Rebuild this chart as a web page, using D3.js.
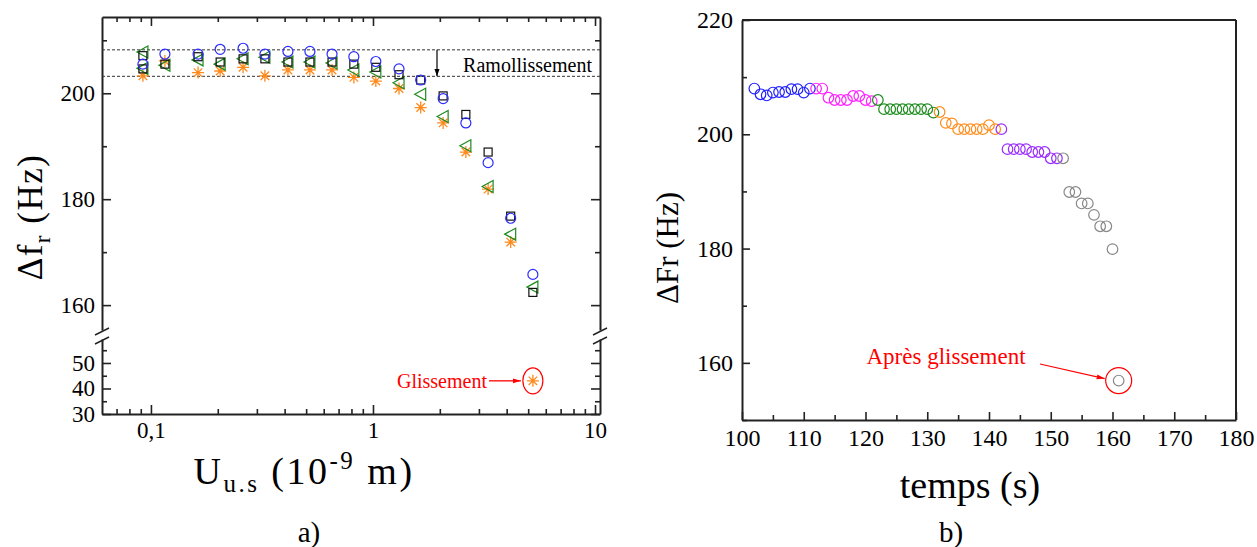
<!DOCTYPE html>
<html>
<head>
<meta charset="utf-8">
<script src="https://cdn.jsdelivr.net/npm/d3@7"></script>
<style>
  html, body { margin: 0; padding: 0; background: #fff; }
  svg { display: block; }
  svg text { font-family: "Liberation Serif", "Times New Roman", serif !important; }
</style>
</head>
<body>
<svg id="chart" width="1257" height="547"></svg>
<script>
// ---------------- DATA: chart a) ----------------
const uValues = [0.092, 0.1156, 0.163, 0.205, 0.26, 0.326, 0.414, 0.52, 0.654, 0.82, 1.03, 1.31, 1.64, 2.07, 2.62, 3.3, 4.17, 5.25];
const circleSeries   = [205.5, 207.4, 207.4, 208.3, 208.5, 207.4, 207.9, 207.9, 207.4, 206.9, 206.0, 204.6, 202.5, 199.0, 194.4, 186.9, 176.4, 165.8];
const squareSeries   = [207.1, 205.5, 206.9, 205.9, 206.5, 206.5, 205.9, 205.9, 205.9, 205.5, 204.9, 203.5, 202.5, 199.5, 196.0, 188.9, 176.8, 162.4];
const triangleSeries = [207.8, 205.3, 206.3, 205.5, 206.5, 206.8, 205.9, 205.9, 205.7, 204.4, 204.0, 202.0, 199.8, 195.6, 190.1, 182.4, 173.4, 163.4];
const starSeries     = [203.3, 206.1, 203.9, 204.2, 204.9, 203.3, 204.4, 204.4, 204.4, 203.0, 202.3, 200.9, 197.3, 194.4, 188.9, 181.9, 171.9];
const extraU = [0.092];
const squareExtra = [204.6];
const triangleExtra = [204.7];
const glissementU = [5.25];
const glissementVal = [43];
const ramollissementLines = [208.2, 203.2];
const xMajorTicksA = [0.1, 1, 10];
const xMajorLabelsA = ["0,1", "1", "10"];
const xMinorTicksA = [0.07, 0.08, 0.09, 0.2, 0.3, 0.4, 0.5, 0.6, 0.7, 0.8, 0.9, 2, 3, 4, 5, 6, 7, 8, 9];
const yTopMajor = [160, 180, 200];
const yTopMinor = [170, 190, 210];
const yBotMajor = [30, 40, 50];
const yBotMinor = [35, 45, 55];

// ---------------- DATA: chart b) ----------------
const blueT = [102, 103, 104, 105, 106, 107, 108, 109, 110, 111];
const blueV = [208.0, 207.0, 206.8, 207.3, 207.4, 207.4, 207.9, 207.9, 207.3, 208.0];
const magentaT = [112, 113, 114, 115, 116, 117, 118, 119, 120, 121];
const magentaV = [208.0, 208.0, 206.4, 206.0, 206.0, 206.0, 206.7, 206.7, 206.0, 205.8];
const greenT = [122, 123, 124, 125, 126, 127, 128, 129, 130, 131];
const greenV = [206.0, 204.4, 204.4, 204.4, 204.4, 204.4, 204.4, 204.4, 204.4, 203.8];
const orangeT = [132, 133, 134, 135, 136, 137, 138, 139, 140, 141];
const orangeV = [203.9, 202.0, 201.9, 200.9, 200.9, 200.9, 200.9, 200.9, 201.6, 200.9];
const purpleT = [142, 143, 144, 145, 146, 147, 148, 149, 150, 151];
const purpleV = [200.9, 197.4, 197.4, 197.4, 197.4, 196.9, 196.9, 196.9, 195.8, 195.8];
const greyT = [152, 153, 154, 155, 156, 157, 158, 159, 160, 161];
const greyV = [195.8, 189.9, 189.9, 187.9, 187.9, 185.9, 183.9, 183.9, 179.9, 156.9];
const xTicksB = [100, 110, 120, 130, 140, 150, 160, 170, 180];
const xMinorB = [105, 115, 125, 135, 145, 155, 165, 175];
const yTicksB = [160, 180, 200, 220];
const yMinorB = [150, 170, 190, 210];

// ---------------- DRAW ----------------
const svg = d3.select("#chart");
const SERIF = "Liberation Serif, Times New Roman, serif";

// ===== Chart a) =====
const ax = d3.scaleLog().domain([0.0602, 10.53]).range([102, 600]);
const ayTop = d3.scaleLinear().domain([155.3, 214.4]).range([330, 17]);
const ayBot = d3.scaleLinear().domain([30, 59.4]).range([414, 339]);
const gA = svg.append("g");

function styleAxis(g) {
  g.attr("font-family", SERIF);
  g.selectAll("path.domain").attr("stroke", "#222").attr("stroke-width", 2);
  g.selectAll(".tick line").attr("stroke", "#222").attr("stroke-width", 1.6);
  g.selectAll(".tick text").style("font-family", SERIF).attr("fill", "#000");
}

// bottom axis
gA.append("g").attr("transform", "translate(0,414)")
  .call(d3.axisBottom(ax).tickValues(xMajorTicksA).tickFormat((d, i) => xMajorLabelsA[i]).tickSizeInner(-9).tickSizeOuter(0).tickPadding(8))
  .call(g => g.selectAll(".tick text").attr("font-size", 23))
  .call(styleAxis);
gA.append("g").attr("transform", "translate(0,414)")
  .call(d3.axisBottom(ax).tickValues(xMinorTicksA).tickFormat("").tickSizeInner(-5).tickSizeOuter(0))
  .call(g => g.select("path.domain").remove())
  .call(styleAxis);
// top axis
gA.append("g").attr("transform", "translate(0,17)")
  .call(d3.axisTop(ax).tickValues(xMajorTicksA).tickFormat("").tickSizeInner(-9).tickSizeOuter(0))
  .call(styleAxis);
gA.append("g").attr("transform", "translate(0,17)")
  .call(d3.axisTop(ax).tickValues(xMinorTicksA).tickFormat("").tickSizeInner(-5).tickSizeOuter(0))
  .call(g => g.select("path.domain").remove())
  .call(styleAxis);

// left/right axes (upper and lower panels)
function yAxesA(scale, major, minor) {
  gA.append("g").attr("transform", "translate(102,0)")
    .call(d3.axisLeft(scale).tickValues(major).tickSizeInner(-9).tickSizeOuter(0).tickPadding(7))
    .call(g => g.selectAll(".tick text").attr("font-size", 23))
    .call(styleAxis);
  gA.append("g").attr("transform", "translate(102,0)")
    .call(d3.axisLeft(scale).tickValues(minor).tickFormat("").tickSizeInner(-5).tickSizeOuter(0))
    .call(g => g.select("path.domain").remove())
    .call(styleAxis);
  gA.append("g").attr("transform", "translate(600,0)")
    .call(d3.axisRight(scale).tickValues(major).tickFormat("").tickSizeInner(-9).tickSizeOuter(0))
    .call(styleAxis);
  gA.append("g").attr("transform", "translate(600,0)")
    .call(d3.axisRight(scale).tickValues(minor).tickFormat("").tickSizeInner(-5).tickSizeOuter(0))
    .call(g => g.select("path.domain").remove())
    .call(styleAxis);
}
yAxesA(ayTop, yTopMajor, yTopMinor);
yAxesA(ayBot, yBotMajor, yBotMinor);

// break marks
[102, 600].forEach(x0 => {
  [ayTop.range()[0] + 3, ayBot.range()[1] + 3].forEach(yy => {
    gA.append("line").attr("x1", x0 - 7).attr("y1", yy + 2).attr("x2", x0 + 7).attr("y2", yy - 5)
      .attr("stroke", "#222").attr("stroke-width", 1.5);
  });
});

// dashed lines
gA.selectAll("line.dash").data(ramollissementLines).join("line")
  .attr("class", "dash")
  .attr("x1", ax.range()[0]).attr("x2", ax.range()[1])
  .attr("y1", d => ayTop(d)).attr("y2", d => ayTop(d))
  .attr("stroke", "#333").attr("stroke-width", 1).attr("stroke-dasharray", "3,2");

// arrow defs
const defs = svg.append("defs");
defs.append("marker").attr("id", "arrBlack").attr("viewBox", "0 0 10 10").attr("refX", 10).attr("refY", 5)
  .attr("markerWidth", 6).attr("markerHeight", 6).attr("orient", "auto-start-reverse")
  .append("path").attr("d", "M0,1.5 L10,5 L0,8.5 Z").attr("fill", "#000");
defs.append("marker").attr("id", "arrRed").attr("viewBox", "0 0 10 10").attr("refX", 10).attr("refY", 5)
  .attr("markerWidth", 8).attr("markerHeight", 8).attr("markerUnits", "userSpaceOnUse")
  .attr("orient", "auto").append("path").attr("d", "M0,2 L10,5 L0,8 Z").attr("fill", "#ff0000");

// Ramollissement arrow + text
gA.append("line").attr("x1", 437).attr("x2", 437)
  .attr("y1", ayTop(ramollissementLines[0])).attr("y2", ayTop(ramollissementLines[1]))
  .attr("stroke", "#000").attr("stroke-width", 1.2).attr("marker-end", "url(#arrBlack)");
gA.append("text").attr("x", 592).attr("y", 72).attr("text-anchor", "end")
  .attr("font-size", 20).text("Ramollissement");

// markers
const colBlue = "#2b2bff", colGreen = "#1f8a1f", colOrange = "#ff8a1c";
function drawSquares(xs, ys) {
  gA.append("g").selectAll("rect").data(ys).join("rect")
    .attr("x", (d, i) => ax(xs[i]) - 4).attr("y", d => ayTop(d) - 4)
    .attr("width", 8).attr("height", 8)
    .attr("fill", "none").attr("stroke", "#111").attr("stroke-width", 1.2);
}
function drawTriangles(xs, ys) {
  gA.append("g").selectAll("path").data(ys).join("path")
    .attr("d", (d, i) => { const x = ax(xs[i]), y = ayTop(d); return `M${x - 6},${y} L${x + 5},${y - 6} L${x + 5},${y + 6} Z`; })
    .attr("fill", "none").attr("stroke", colGreen).attr("stroke-width", 1.2);
}
function drawCircles(xs, ys) {
  gA.append("g").selectAll("circle").data(ys).join("circle")
    .attr("cx", (d, i) => ax(xs[i])).attr("cy", d => ayTop(d)).attr("r", 5)
    .attr("fill", "none").attr("stroke", colBlue).attr("stroke-width", 1.2);
}
function starPath(x, y, r) {
  let p = "";
  [0, 45, 90, 135].forEach(a => {
    const rad = a * Math.PI / 180, dx = r * Math.cos(rad), dy = r * Math.sin(rad);
    p += `M${x - dx},${y - dy} L${x + dx},${y + dy} `;
  });
  return p;
}
function drawStars(xs, ys, yScale) {
  gA.append("g").selectAll("path").data(ys).join("path")
    .attr("d", (d, i) => starPath(ax(xs[i]), yScale(d), 6))
    .attr("fill", "none").attr("stroke", colOrange).attr("stroke-width", 1.3);
}
drawStars(uValues, starSeries, ayTop);
drawTriangles(uValues, triangleSeries);
drawTriangles(extraU, triangleExtra);
drawSquares(uValues, squareSeries);
drawSquares(extraU, squareExtra);
drawCircles(uValues, circleSeries);

// Glissement
drawStars(glissementU, glissementVal, ayBot);
gA.append("ellipse").attr("cx", ax(glissementU[0])).attr("cy", ayBot(glissementVal[0]))
  .attr("rx", 10).attr("ry", 13).attr("fill", "none").attr("stroke", "#ff0000").attr("stroke-width", 1.2);
gA.append("line").attr("x1", 489).attr("x2", ax(glissementU[0]) - 12)
  .attr("y1", ayBot(glissementVal[0])).attr("y2", ayBot(glissementVal[0]))
  .attr("stroke", "#ff0000").attr("stroke-width", 1.3).attr("marker-end", "url(#arrRed)");
gA.append("text").attr("x", 487).attr("y", ayBot(glissementVal[0]) + 7).attr("text-anchor", "end")
  .attr("font-size", 20).attr("fill", "#ff0000").text("Glissement");

// Axis titles a)
const yTitleA = gA.append("text").attr("transform", "translate(42,217) rotate(-90)")
  .attr("text-anchor", "middle").attr("font-size", 35).attr("letter-spacing", 1.5);
yTitleA.append("tspan").text("Δf");
yTitleA.append("tspan").attr("font-size", 23).attr("dy", 8).text("r");
yTitleA.append("tspan").attr("dy", -8).text(" (Hz)");

const xTitleA = gA.append("text").attr("x", 304).attr("y", 484).attr("text-anchor", "middle")
  .attr("font-size", 38).attr("letter-spacing", 2.5);
xTitleA.append("tspan").text("U");
xTitleA.append("tspan").attr("font-size", 25).attr("dy", 8).text("u.s");
xTitleA.append("tspan").attr("dy", -8).text(" (10");
xTitleA.append("tspan").attr("font-size", 25).attr("dy", -15).text("-9");
xTitleA.append("tspan").attr("dy", 15).text(" m)");

gA.append("text").attr("x", 309).attr("y", 542).attr("text-anchor", "middle").attr("font-size", 29).text("a)");

// ===== Chart b) =====
const bx = d3.scaleLinear().domain([100, 180]).range([742, 1236]);
const by = d3.scaleLinear().domain([150, 220]).range([420, 20]);
const gB = svg.append("g");

gB.append("g").attr("transform", "translate(0,420)")
  .call(d3.axisBottom(bx).tickValues(xTicksB).tickSizeInner(-8).tickSizeOuter(0).tickPadding(9))
  .call(g => g.selectAll(".tick text").attr("font-size", 24))
  .call(styleAxis);
gB.append("g").attr("transform", "translate(0,420)")
  .call(d3.axisBottom(bx).tickValues(xMinorB).tickFormat("").tickSizeInner(-5).tickSizeOuter(0))
  .call(g => g.select("path.domain").remove())
  .call(styleAxis);
gB.append("g").attr("transform", "translate(742,0)")
  .call(d3.axisLeft(by).tickValues(yTicksB).tickSizeInner(-8).tickSizeOuter(0).tickPadding(9))
  .call(g => g.selectAll(".tick text").attr("font-size", 24))
  .call(styleAxis);
gB.append("g").attr("transform", "translate(742,0)")
  .call(d3.axisLeft(by).tickValues(yMinorB).tickFormat("").tickSizeInner(-5).tickSizeOuter(0))
  .call(g => g.select("path.domain").remove())
  .call(styleAxis);
// box top/right
gB.append("line").attr("x1", bx.range()[0]).attr("x2", bx.range()[1]).attr("y1", by.range()[1]).attr("y2", by.range()[1])
  .attr("stroke", "#222").attr("stroke-width", 2);
gB.append("line").attr("x1", bx.range()[1]).attr("x2", bx.range()[1]).attr("y1", by.range()[1]).attr("y2", by.range()[0])
  .attr("stroke", "#222").attr("stroke-width", 2);

const seriesB = [
  { t: blueT, v: blueV, c: "#2020ff" },
  { t: magentaT, v: magentaV, c: "#ff22ff" },
  { t: greenT, v: greenV, c: "#1a8a1a" },
  { t: orangeT, v: orangeV, c: "#ff8c1a" },
  { t: purpleT, v: purpleV, c: "#9a2bff" },
  { t: greyT, v: greyV, c: "#888888" }
];
seriesB.forEach(s => {
  gB.append("g").selectAll("circle").data(s.v).join("circle")
    .attr("cx", (d, i) => bx(s.t[i])).attr("cy", d => by(d)).attr("r", 5.3)
    .attr("fill", "none").attr("stroke", s.c).attr("stroke-width", 1.2);
});

// Après glissement annotation
const lastT = greyT[greyT.length - 1], lastV = greyV[greyV.length - 1];
gB.append("circle").attr("cx", bx(lastT)).attr("cy", by(lastV)).attr("r", 13)
  .attr("fill", "none").attr("stroke", "#ff0000").attr("stroke-width", 1.2);
gB.append("line").attr("x1", 1040).attr("y1", 364).attr("x2", bx(lastT) - 14).attr("y2", by(lastV) - 2)
  .attr("stroke", "#ff0000").attr("stroke-width", 1.2).attr("marker-end", "url(#arrRed)");
gB.append("text").attr("x", 946).attr("y", 364).attr("text-anchor", "middle")
  .attr("font-size", 23).attr("fill", "#ff0000").text("Après glissement");

gB.append("text").attr("transform", "translate(678,248) rotate(-90)").attr("text-anchor", "middle")
  .attr("font-size", 31).text("ΔFr (Hz)");
gB.append("text").attr("x", 970).attr("y", 498).attr("text-anchor", "middle")
  .attr("font-size", 38).text("temps (s)");
gB.append("text").attr("x", 951).attr("y", 542).attr("text-anchor", "middle").attr("font-size", 29).text("b)");
</script>
</body>
</html>
